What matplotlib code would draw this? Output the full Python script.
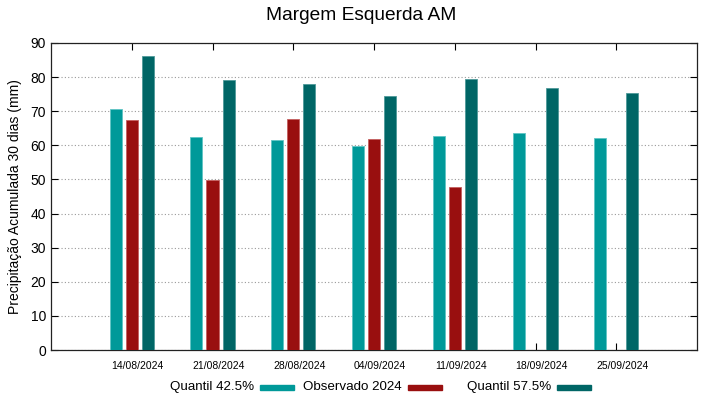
import matplotlib
matplotlib.use("Agg")
import matplotlib.pyplot as plt
from matplotlib.patches import Rectangle
from matplotlib.transforms import ScaledTranslation
import numpy as np

plt.rcParams['font.family'] = ['Liberation Sans', 'DejaVu Sans']

dates = ["14/08/2024", "21/08/2024", "28/08/2024", "04/09/2024",
         "11/09/2024", "18/09/2024", "25/09/2024"]
q425 = [70.6, 62.3, 61.5, 59.8, 62.8, 63.5, 62.2]
obs2024 = [67.4, 49.9, 67.7, 61.8, 47.9, np.nan, np.nan]
q575 = [86.1, 79.2, 78.1, 74.6, 79.4, 76.8, 75.3]
series_names = ["Quantil 42.5%", "Observado 2024", "Quantil 57.5%"]
colors = ["#009999", "#990f0f", "#006666"]
edges = ["#5fc4c4", "#c45f5f", "#4f9a9a"]

fig = plt.figure(figsize=(7.19, 3.99), dpi=100)
ax = fig.add_axes([51/719, 1-350/399, (697-51)/719, (350-43)/399])

x = np.arange(1, len(dates)+1)
w = 0.15
offs = [-0.2, 0.0, 0.2]
for vals, off, c, ec in zip([q425, obs2024, q575], offs, colors, edges):
    ax.bar(x + off, vals, width=w, color=c, edgecolor=ec, linewidth=0.6, zorder=3)

ax.set_xlim(0, 8)
ax.set_ylim(0, 90)
ax.set_yticks(np.arange(0, 91, 10))
ax.set_xticks(x)
ax.set_xticklabels(dates, fontsize=7.5)
ax.tick_params(axis='y', labelsize=10, direction='in', right=True, length=5, width=0.8)
ax.tick_params(axis='x', direction='in', top=True, length=5, width=0.8, pad=8)
shift = ScaledTranslation(6/100, 0, fig.dpi_scale_trans)
for lab in ax.get_xticklabels():
    lab.set_transform(lab.get_transform() + shift)
ax.yaxis.grid(True, linestyle=(0, (1, 2)), color='#999999', linewidth=0.8, zorder=0)
ax.set_axisbelow(True)
for s in ax.spines.values():
    s.set_linewidth(0.9)
    s.set_color('#222222')
ax.set_ylabel("Precipitação Acumulada 30 dias (mm)", fontsize=10, labelpad=6)

fig.text(0.5 + 2/719, 1-16/399, "Margem Esquerda AM", ha='center', va='center', fontsize=13.8)

# legend (gnuplot style: text then sample)
text_right = [254, 402, 551]
for name, tr, c in zip(series_names, text_right, colors):
    fig.text(tr/719, 1-387/399, name, ha='right', va='center', fontsize=9.6)
    fig.patches.append(Rectangle(((tr+6)/719, 1-389.5/399), 34/719, 5/399,
                                 transform=fig.transFigure, color=c, figure=fig))

fig.savefig("out.png", dpi=100)
